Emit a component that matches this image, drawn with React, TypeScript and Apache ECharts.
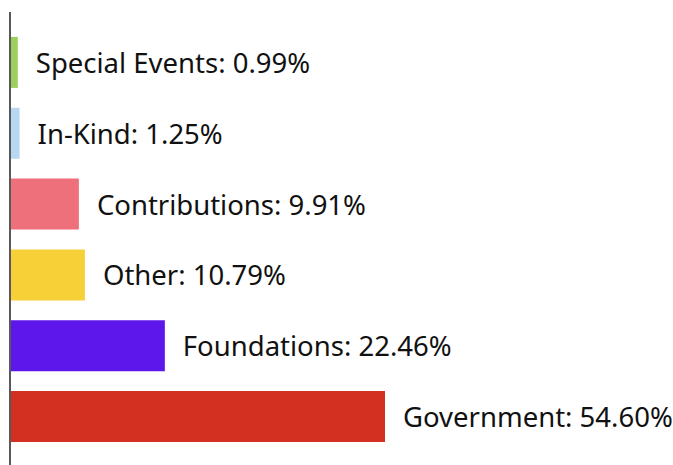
import React, { useEffect, useRef } from "react";
import * as echarts from "echarts";

const categories = ["Special Events", "In-Kind", "Contributions", "Other", "Foundations", "Government"];
const percentages = [0.99, 1.25, 9.91, 10.79, 22.46, 54.6];
const barColors = ["#9DCF5C", "#B7D7F2", "#EE707B", "#F7D038", "#5E17EB", "#D33022"];

export default function App() {
  const ref = useRef<HTMLDivElement>(null);
  useEffect(() => {
    if (!ref.current) return;
    const chart = echarts.init(ref.current, null, { renderer: "svg" });
    chart.setOption({
      animation: false,
      backgroundColor: "#ffffff",
      grid: { left: 11, right: 251, top: 27, bottom: 13, containLabel: false },
      xAxis: { type: "value", min: 0, max: 60, show: false },
      yAxis: {
        type: "category",
        data: categories,
        inverse: true,
        axisLine: { show: false },
        axisTick: { show: false },
        axisLabel: { show: false },
      },
      graphic: [
        {
          type: "line",
          shape: { x1: 10, y1: 12, x2: 10, y2: 465 },
          style: { stroke: "#222222", lineWidth: 1.5 },
          z: 10,
        },
      ],
      series: [
        {
          type: "bar",
          barWidth: 51,
          data: percentages.map((v, i) => ({ value: v, itemStyle: { color: barColors[i] } })),
          label: {
            show: true,
            position: "right",
            distance: 18,
            color: "#111111",
            fontFamily: "Noto Sans",
            fontSize: 27.5,
            formatter: (p: any) => `${p.name}: ${Number(p.value).toFixed(2)}%`,
          },
        },
      ],
    });
    return () => chart.dispose();
  }, []);
  return <div ref={ref} style={{ position: "fixed", left: 0, top: 0, width: 673, height: 465 }} />;
}
